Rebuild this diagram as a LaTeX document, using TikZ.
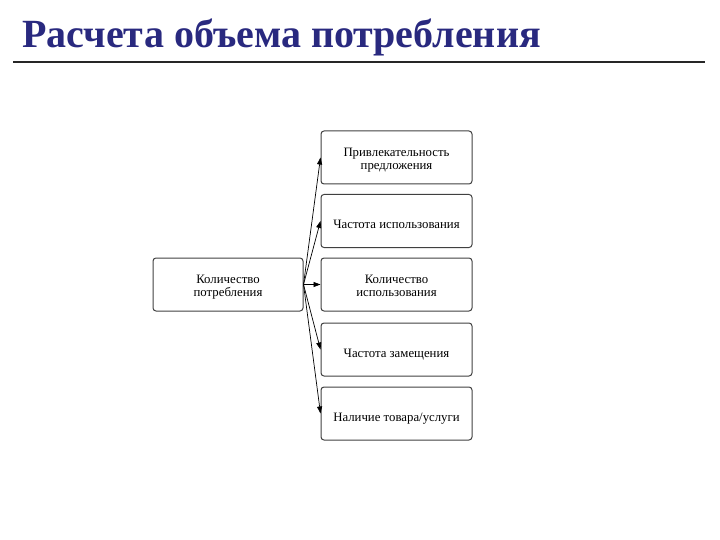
\documentclass[tikz,border=0pt]{standalone}
\usepackage{fontspec}
\setmainfont{Liberation Serif}
\usetikzlibrary{arrows.meta}
\definecolor{titleblue}{HTML}{29297F}
\definecolor{boxline}{HTML}{404040}
\begin{document}
\begin{tikzpicture}[x=1pt,y=-1pt,
  box/.style={draw=boxline, line width=1pt, rounded corners=3pt, minimum width=150pt, minimum height=53pt, font=\fontsize{12.8}{12.6}\selectfont, inner sep=1pt},
  onebox/.style={box, text height=15.6pt, text depth=0pt},
  twobox/.style={box, align=center, text height=23.4pt, text depth=0pt},
  conn/.style={-{Triangle[length=7pt,width=5pt]}, line width=0.7pt}]
\useasboundingbox (0,0) rectangle (720,540);
\node[anchor=base west, font=\fontsize{40}{44}\selectfont\bfseries, text=titleblue, inner sep=0pt] (title) at (22,47.5) {Расчета объема потребления};
\coordinate (l1) at (13,62);
\coordinate (l2) at (705,62);
\draw[line width=1.2pt, draw=black!85] (l1) -- (l2);
\node[twobox] (src) at (228,284.5) {Количество\\потребления};
\node[twobox, minimum width=151pt] (b1) at (396.5,157.5) {Привлекательность\\предложения};
\node[onebox, minimum width=151pt] (b2) at (396.5,221) {Частота использования};
\node[twobox, minimum width=151pt] (b3) at (396.5,284.5) {Количество\\использования};
\node[onebox, minimum width=151pt] (b4) at (396.5,349.5) {Частота замещения};
\node[onebox, minimum width=151pt] (b5) at (396.5,413.5) {Наличие товара/услуги};
\foreach \b in {b1,b2,b3,b4,b5}
  \draw[conn] (src.east) -- (\b.west);
\end{tikzpicture}
\end{document}
